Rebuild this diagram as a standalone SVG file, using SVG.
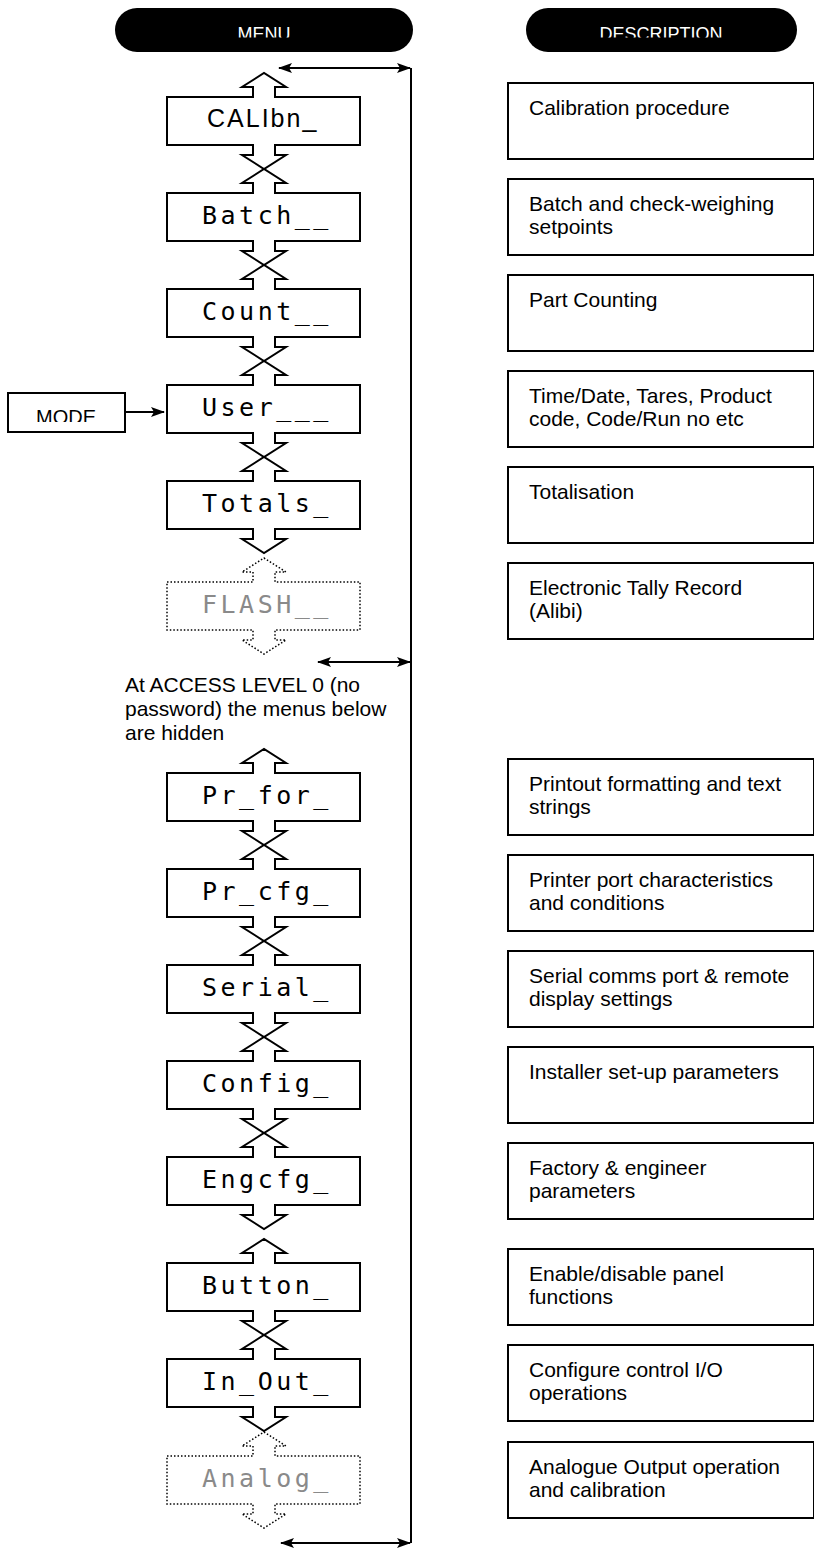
<svg xmlns="http://www.w3.org/2000/svg" width="814" height="1548" viewBox="0 0 814 1548">
<style>
.pill{fill:#000}
.ph{font-family:"Liberation Sans",Arial,sans-serif;font-size:18px;fill:#fff;text-anchor:middle}
.node{fill:#fff;stroke:#000;stroke-width:2;stroke-linejoin:miter}
.ghost{fill:#fff;stroke:#000;stroke-width:1.5;stroke-dasharray:1.5 2}
.lbl{font-family:"DejaVu Sans Mono",monospace;font-size:25px;letter-spacing:3.5px;fill:#000}
.glbl{font-family:"DejaVu Sans Mono",monospace;font-size:25px;letter-spacing:3.5px;fill:#8a8a8a}
.desc{fill:#fff;stroke:#000;stroke-width:2}
.dt{font-family:"Liberation Sans",Arial,sans-serif;font-size:21px;fill:#000}
.conn{fill:none;stroke:#000;stroke-width:2}
</style>
<defs>
<marker id="ah" viewBox="0 0 14 10" refX="13" refY="5" markerWidth="14" markerHeight="10" markerUnits="userSpaceOnUse" orient="auto-start-reverse">
<path d="M0,0 L14,5 L0,10 L3,5 z" fill="#000"/>
</marker>
<clipPath id="c1"><rect x="0" y="0" width="814" height="37.5"/></clipPath>
<clipPath id="c2"><rect x="0" y="380" width="200" height="42"/></clipPath>
</defs>

<g id="hdr-menu">
<rect class="pill" x="115" y="8" width="298" height="44" rx="22"/>
<text class="ph" x="264" y="40" clip-path="url(#c1)">MENU</text>
</g>
<g id="hdr-desc">
<rect class="pill" x="526" y="8" width="271" height="44" rx="22"/>
<text class="ph" x="661" y="40" clip-path="url(#c1)">DESCRIPTION</text>
</g>

<g id="connectors">
<line class="conn" x1="411" y1="68" x2="411" y2="1543"/>
<line class="conn" x1="279" y1="68" x2="410" y2="68" marker-start="url(#ah)" marker-end="url(#ah)"/>
<line class="conn" x1="318" y1="662" x2="410" y2="662" marker-start="url(#ah)" marker-end="url(#ah)"/>
<line class="conn" x1="281" y1="1543" x2="410" y2="1543" marker-start="url(#ah)" marker-end="url(#ah)"/>
<line class="conn" x1="125" y1="412" x2="164" y2="412" marker-end="url(#ah)"/>
</g>

<g id="mode">
<rect class="desc" x="8" y="393" width="117" height="39"/>
<text x="66" y="424" font-family="Liberation Sans, Arial, sans-serif" font-size="20" text-anchor="middle" clip-path="url(#c2)">MODE</text>
</g>

<g id="n-calibn">
<path class="node" d="M167,97 H253 V87 H242 L264,73 L286,87 H275 V97 H360 V145 H275 V155 H286 L264,169 L242,155 H253 V145 H167 Z"/>
<text x="207" y="127" font-family="Liberation Sans, Arial, sans-serif" font-size="25" letter-spacing="2">CALIbn_</text>
</g>
<g id="n-batch">
<path class="node" d="M167,193 H253 V183 H242 L264,169 L286,183 H275 V193 H360 V241 H275 V251 H286 L264,265 L242,251 H253 V241 H167 Z"/>
<text class="lbl" x="202" y="224">Batch__</text>
</g>
<g id="n-count">
<path class="node" d="M167,289 H253 V279 H242 L264,265 L286,279 H275 V289 H360 V337 H275 V347 H286 L264,361 L242,347 H253 V337 H167 Z"/>
<text class="lbl" x="202" y="320">Count__</text>
</g>
<g id="n-user">
<path class="node" d="M167,385 H253 V375 H242 L264,361 L286,375 H275 V385 H360 V433 H275 V443 H286 L264,457 L242,443 H253 V433 H167 Z"/>
<text class="lbl" x="202" y="416">User___</text>
</g>
<g id="n-totals">
<path class="node" d="M167,481 H253 V471 H242 L264,457 L286,471 H275 V481 H360 V529 H275 V539 H286 L264,553 L242,539 H253 V529 H167 Z"/>
<text class="lbl" x="202" y="512">Totals_</text>
</g>
<g id="n-flash">
<path class="ghost" d="M167,582 H253 V572 H242 L264,558 L286,572 H275 V582 H360 V630 H275 V640 H286 L264,654 L242,640 H253 V630 H167 Z"/>
<text class="glbl" x="202" y="613">FLASH__</text>
</g>

<g id="access-note">
<text class="dt" x="125"><tspan x="125" y="692">At ACCESS LEVEL 0 (no</tspan><tspan x="125" y="716">password) the menus below</tspan><tspan x="125" y="740">are hidden</tspan></text>
</g>

<g id="n-prfor">
<path class="node" d="M167,773 H253 V763 H242 L264,749 L286,763 H275 V773 H360 V821 H275 V831 H286 L264,845 L242,831 H253 V821 H167 Z"/>
<text class="lbl" x="202" y="804">Pr_for_</text>
</g>
<g id="n-prcfg">
<path class="node" d="M167,869 H253 V859 H242 L264,845 L286,859 H275 V869 H360 V917 H275 V927 H286 L264,941 L242,927 H253 V917 H167 Z"/>
<text class="lbl" x="202" y="900">Pr_cfg_</text>
</g>
<g id="n-serial">
<path class="node" d="M167,965 H253 V955 H242 L264,941 L286,955 H275 V965 H360 V1013 H275 V1023 H286 L264,1037 L242,1023 H253 V1013 H167 Z"/>
<text class="lbl" x="202" y="996">Serial_</text>
</g>
<g id="n-config">
<path class="node" d="M167,1061 H253 V1051 H242 L264,1037 L286,1051 H275 V1061 H360 V1109 H275 V1119 H286 L264,1133 L242,1119 H253 V1109 H167 Z"/>
<text class="lbl" x="202" y="1092">Config_</text>
</g>
<g id="n-engcfg">
<path class="node" d="M167,1157 H253 V1147 H242 L264,1133 L286,1147 H275 V1157 H360 V1205 H275 V1215 H286 L264,1229 L242,1215 H253 V1205 H167 Z"/>
<text class="lbl" x="202" y="1188">Engcfg_</text>
</g>
<g id="n-button">
<path class="node" d="M167,1263 H253 V1253 H242 L264,1239 L286,1253 H275 V1263 H360 V1311 H275 V1321 H286 L264,1335 L242,1321 H253 V1311 H167 Z"/>
<text class="lbl" x="202" y="1294">Button_</text>
</g>
<g id="n-inout">
<path class="node" d="M167,1359 H253 V1349 H242 L264,1335 L286,1349 H275 V1359 H360 V1407 H275 V1417 H286 L264,1431 L242,1417 H253 V1407 H167 Z"/>
<text class="lbl" x="202" y="1390">In_Out_</text>
</g>
<g id="n-analog">
<path class="ghost" d="M167,1456 H253 V1446 H242 L264,1432 L286,1446 H275 V1456 H360 V1504 H275 V1514 H286 L264,1528 L242,1514 H253 V1504 H167 Z"/>
<text class="glbl" x="202" y="1487">Analog_</text>
</g>

<g id="d-calibration"><rect class="desc" x="508" y="83" width="306" height="76"/><text class="dt" x="529" y="115">Calibration procedure</text></g>
<g id="d-batch"><rect class="desc" x="508" y="179" width="306" height="76"/><text class="dt"><tspan x="529" y="211">Batch and check-weighing</tspan><tspan x="529" y="234">setpoints</tspan></text></g>
<g id="d-count"><rect class="desc" x="508" y="275" width="306" height="76"/><text class="dt" x="529" y="307">Part Counting</text></g>
<g id="d-user"><rect class="desc" x="508" y="371" width="306" height="76"/><text class="dt"><tspan x="529" y="403">Time/Date, Tares, Product</tspan><tspan x="529" y="426">code, Code/Run no etc</tspan></text></g>
<g id="d-totals"><rect class="desc" x="508" y="467" width="306" height="76"/><text class="dt" x="529" y="499">Totalisation</text></g>
<g id="d-flash"><rect class="desc" x="508" y="563" width="306" height="76"/><text class="dt"><tspan x="529" y="595">Electronic Tally Record</tspan><tspan x="529" y="618">(Alibi)</tspan></text></g>
<g id="d-prfor"><rect class="desc" x="508" y="759" width="306" height="76"/><text class="dt"><tspan x="529" y="791">Printout formatting and text</tspan><tspan x="529" y="814">strings</tspan></text></g>
<g id="d-prcfg"><rect class="desc" x="508" y="855" width="306" height="76"/><text class="dt"><tspan x="529" y="887">Printer port characteristics</tspan><tspan x="529" y="910">and conditions</tspan></text></g>
<g id="d-serial"><rect class="desc" x="508" y="951" width="306" height="76"/><text class="dt"><tspan x="529" y="983">Serial comms port &amp; remote</tspan><tspan x="529" y="1006">display settings</tspan></text></g>
<g id="d-config"><rect class="desc" x="508" y="1047" width="306" height="76"/><text class="dt" x="529" y="1079">Installer set-up parameters</text></g>
<g id="d-engcfg"><rect class="desc" x="508" y="1143" width="306" height="76"/><text class="dt"><tspan x="529" y="1175">Factory &amp; engineer</tspan><tspan x="529" y="1198">parameters</tspan></text></g>
<g id="d-button"><rect class="desc" x="508" y="1249" width="306" height="76"/><text class="dt"><tspan x="529" y="1281">Enable/disable panel</tspan><tspan x="529" y="1304">functions</tspan></text></g>
<g id="d-inout"><rect class="desc" x="508" y="1345" width="306" height="76"/><text class="dt"><tspan x="529" y="1377">Configure control I/O</tspan><tspan x="529" y="1400">operations</tspan></text></g>
<g id="d-analog"><rect class="desc" x="508" y="1442" width="306" height="76"/><text class="dt"><tspan x="529" y="1474">Analogue Output operation</tspan><tspan x="529" y="1497">and calibration</tspan></text></g>
</svg>
